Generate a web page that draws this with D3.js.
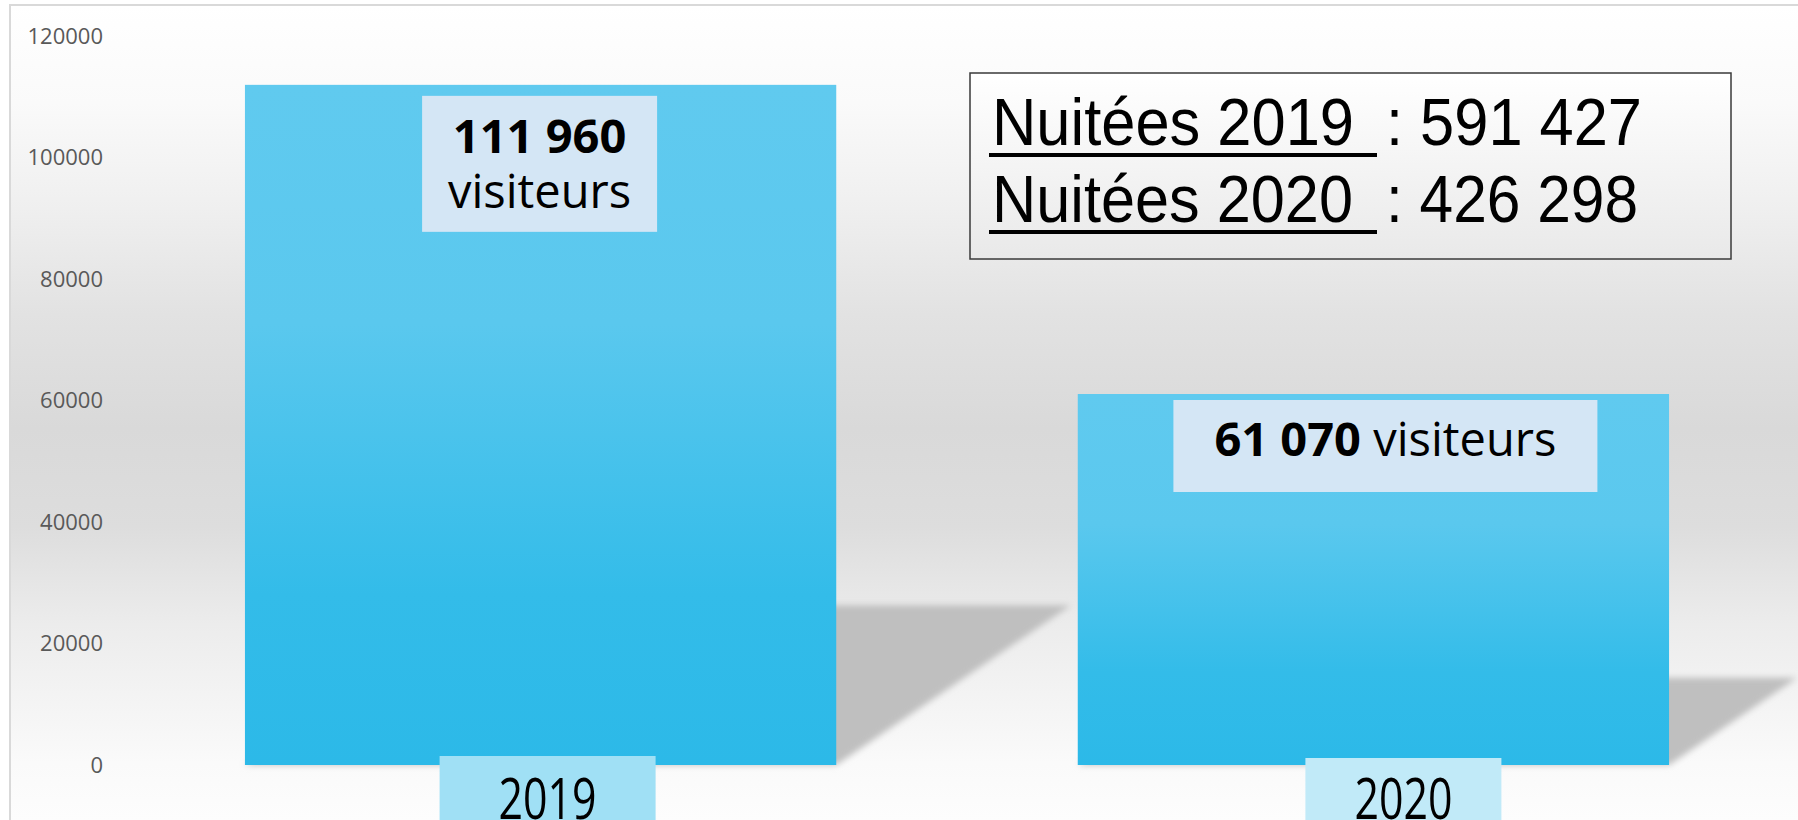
<!DOCTYPE html>
<html>
<head>
<meta charset="utf-8">
<script src="https://cdn.jsdelivr.net/npm/d3@7"></script>
<style>
  body { margin: 0; background: #fff; }
  svg { display: block; }
</style>
</head>
<body>
<svg id="chart"></svg>
<script>
// data
const years = ["2019", "2020"];
const visitors = [111960, 61070];
const visitor_labels = ["111 960", "61 070"];
const nuitees_labels = ["591 427", "426 298"];
const y_ticks = [0, 20000, 40000, 60000, 80000, 100000, 120000];

const width = 1798;
const height = 820;

const svg = d3.select("#chart")
  .attr("width", width)
  .attr("height", height)
  .style("font-family", "'Open Sans', sans-serif");

const defs = svg.append("defs");

// background: white -> grey -> white
const bg = defs.append("linearGradient")
  .attr("id", "bg")
  .attr("gradientUnits", "userSpaceOnUse")
  .attr("x1", 0).attr("y1", 5).attr("x2", 0).attr("y2", 820);
[[0, "#ffffff"], [0.12, "#fafafa"], [0.25, "#efefef"], [0.38, "#e2e2e2"],
 [0.52, "#d9d9d9"], [0.64, "#dddddd"], [0.76, "#ececec"], [0.93, "#fafafa"], [1, "#fdfdfd"]]
  .forEach(s => bg.append("stop").attr("offset", s[0]).attr("stop-color", s[1]));

const bar_grad = defs.append("linearGradient")
  .attr("id", "bar-grad")
  .attr("x1", 0).attr("y1", 0).attr("x2", 0).attr("y2", 1);
[[0, "#60caef"], [0.35, "#5ac8ee"], [0.75, "#33bce9"], [1, "#2cb9e8"]]
  .forEach(s => bar_grad.append("stop").attr("offset", s[0]).attr("stop-color", s[1]));

const box_grad = defs.append("linearGradient")
  .attr("id", "box-grad")
  .attr("x1", 0).attr("y1", 0).attr("x2", 0).attr("y2", 1);
[[0, "#ffffff"], [1, "#e9e9e9"]]
  .forEach(s => box_grad.append("stop").attr("offset", s[0]).attr("stop-color", s[1]));

defs.append("filter")
  .attr("id", "blur")
  .attr("x", "-20%").attr("y", "-20%").attr("width", "140%").attr("height", "140%")
  .append("feGaussianBlur")
  .attr("stdDeviation", 3);

svg.append("rect")
  .attr("x", 10).attr("y", 5)
  .attr("width", width + 20).attr("height", height + 20)
  .attr("fill", "url(#bg)")
  .attr("stroke", "#d9d9d9")
  .attr("stroke-width", 2);

const x = d3.scaleBand()
  .domain(years)
  .range([160, 1754])
  .paddingInner(0.29)
  .paddingOuter(0.102);

const y = d3.scaleLinear()
  .domain([0, 120000])
  .range([765, 36]);

// y axis, labels only
svg.append("g")
  .attr("transform", "translate(103,0)")
  .call(d3.axisLeft(y).tickValues(y_ticks).tickSize(0).tickPadding(0).tickFormat(d => d))
  .call(g => g.select(".domain").remove())
  .call(g => g.selectAll("text")
    .attr("fill", "#595959")
    .style("font-size", "22px")
    .style("font-family", "'Open Sans', sans-serif"));

const bars = years.map((yr, i) => ({ year: yr, value: visitors[i], i }));

// cast shadows to the right of the bars
svg.append("g")
  .attr("filter", "url(#blur)")
  .selectAll("polygon")
  .data(bars)
  .join("polygon")
  .attr("fill", "#bfbfbf")
  .attr("points", d => {
    const x0 = x(d.year), x1 = x0 + x.bandwidth();
    const y0 = y(0), bh = y(0) - y(d.value);
    const h = 0.235 * bh, dx = 0.345 * bh;
    return [[x0, y0], [x1, y0], [x1 + dx, y0 - h], [x0 + dx, y0 - h]].join(" ");
  });

svg.append("g")
  .selectAll("rect")
  .data(bars)
  .join("rect")
  .attr("x", d => x(d.year))
  .attr("y", d => y(d.value))
  .attr("width", x.bandwidth())
  .attr("height", d => y(0) - y(d.value))
  .attr("fill", "url(#bar-grad)");

// value boxes inside the bars
const value_layout = [
  { dx: -1, top: 11, w: 235, h: 136 },
  { dx: 12, top: 6, w: 424, h: 92 }
];

bars.forEach(d => {
  const l = value_layout[d.i];
  const cx = x(d.year) + x.bandwidth() / 2 + l.dx;
  const top = y(d.value) + l.top;
  svg.append("rect")
    .attr("x", cx - l.w / 2).attr("y", top)
    .attr("width", l.w).attr("height", l.h)
    .attr("fill", "#d4e6f5");

  const t = svg.append("text")
    .attr("x", cx).attr("y", top + (d.i === 0 ? 57 : 56))
    .attr("text-anchor", "middle")
    .style("font-size", "47px")
    .attr("fill", "#000");

  if (d.i === 0) {
    t.append("tspan").style("font-weight", "bold").text(visitor_labels[d.i]);
    t.append("tspan").attr("x", cx).attr("dy", 55).text("visiteurs");
  } else {
    t.append("tspan").style("font-weight", "bold").text(visitor_labels[d.i]);
    t.append("tspan").text(" visiteurs");
  }
});

// category label boxes
const cat_layout = [
  { dx: 7, top: -9, w: 216, fill: "#a0e0f5" },
  { dx: 30, top: -7, w: 196, fill: "#c1eaf8" }
];

bars.forEach(d => {
  const l = cat_layout[d.i];
  const cx = x(d.year) + x.bandwidth() / 2 + l.dx;
  svg.append("rect")
    .attr("x", cx - l.w / 2).attr("y", y(0) + l.top)
    .attr("width", l.w).attr("height", 100)
    .attr("fill", l.fill);
  svg.append("text")
    .attr("x", cx).attr("y", y(0) + 54)
    .attr("text-anchor", "middle")
    .attr("textLength", 98)
    .attr("lengthAdjust", "spacingAndGlyphs")
    .style("font-size", "57px")
    .attr("fill", "#000")
    .text(d.year);
});

// nuitées box
const legend = svg.append("g")
  .style("font-family", "'Liberation Sans', Arial, sans-serif");
legend.append("rect")
  .attr("x", 970).attr("y", 73)
  .attr("width", 761).attr("height", 186)
  .attr("fill", "url(#box-grad)")
  .attr("stroke", "#3a3a3a")
  .attr("stroke-width", 1.5);

const legend_lines = [
  { base: 145, len: 362, value_len: 256 },
  { base: 222, len: 361, value_len: 252 }
];

years.forEach((yr, i) => {
  const l = legend_lines[i];
  legend.append("text")
    .attr("x", 992).attr("y", l.base)
    .attr("textLength", l.len)
    .attr("lengthAdjust", "spacingAndGlyphs")
    .style("font-size", "66px")
    .attr("fill", "#000")
    .text(`Nuitées ${ yr }`);
  legend.append("rect")
    .attr("x", 989).attr("y", l.base + 8)
    .attr("width", 388).attr("height", 4)
    .attr("fill", "#000");
  legend.append("text")
    .attr("x", 1386).attr("y", l.base)
    .attr("textLength", l.value_len)
    .attr("lengthAdjust", "spacingAndGlyphs")
    .style("font-size", "66px")
    .attr("fill", "#000")
    .text(`: ${ nuitees_labels[i] }`);
});
</script>
</body>
</html>
